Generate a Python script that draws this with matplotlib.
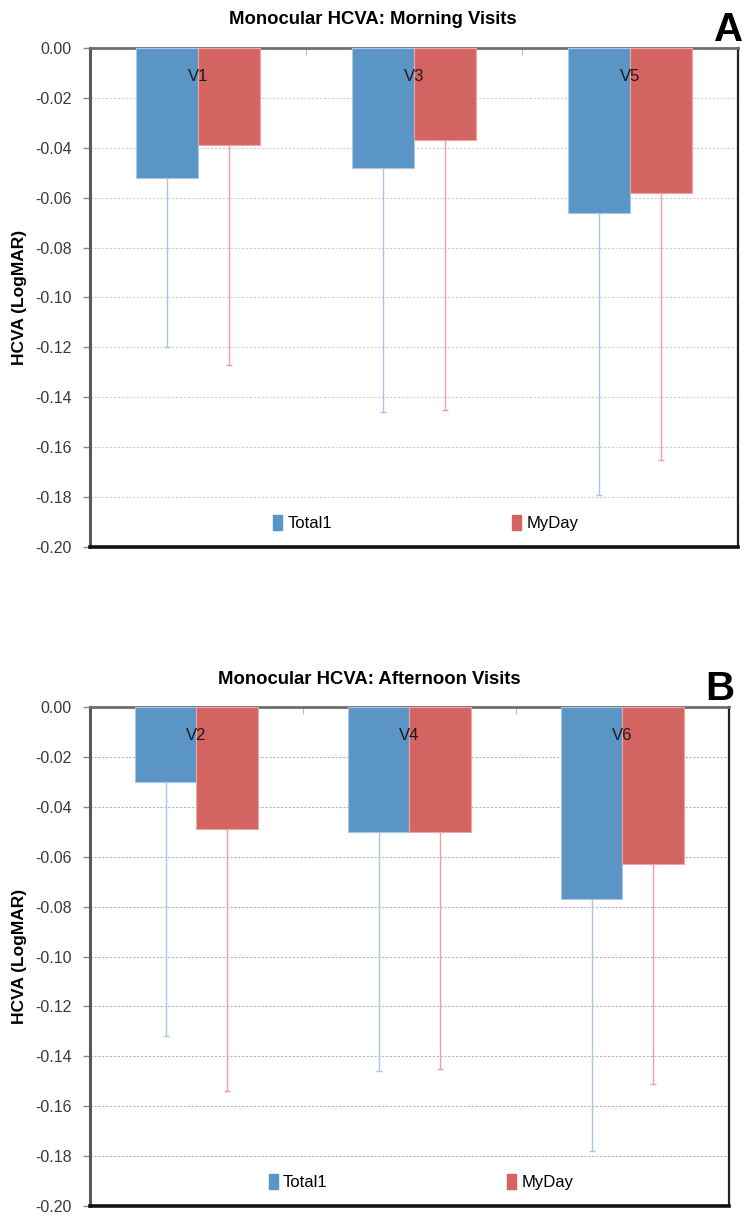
import numpy as np
import matplotlib.pyplot as plt

plt.rcParams['font.family'] = ['Liberation Sans', 'DejaVu Sans']

series = ["Total1", "MyDay"]

morning_visits = ["V1", "V3", "V5"]
morning_total1 = [-0.052, -0.048, -0.066]
morning_myday = [-0.039, -0.037, -0.058]
morning_total1_err = [0.068, 0.098, 0.113]
morning_myday_err = [0.088, 0.108, 0.107]

afternoon_visits = ["V2", "V4", "V6"]
afternoon_total1 = [-0.030, -0.050, -0.077]
afternoon_myday = [-0.049, -0.050, -0.063]
afternoon_total1_err = [0.102, 0.096, 0.101]
afternoon_myday_err = [0.105, 0.095, 0.088]

yticks = np.arange(0, -0.2001, -0.02)

blue = "#5b95c6"
red = "#d46462"
blue_err = "#a9c5e2"
red_err = "#eca2a2"


def draw_panel(ax, visits, total1, myday, total1_err, myday_err, letter, grid_color, width_px):
    x = np.arange(len(visits))
    w = 0.287
    ax.bar(x - w / 2, total1, w, color=blue, edgecolor="#a9c7e3", linewidth=0.8, zorder=3)
    ax.bar(x + w / 2, myday, w, color=red, edgecolor="#eaa7a5", linewidth=0.8, zorder=3)
    # one-sided (downward) error bars
    ax.errorbar(x - w / 2, total1, yerr=[total1_err, np.zeros(len(x))], fmt="none",
                ecolor=blue_err, elinewidth=1, capsize=2.5, capthick=1, zorder=2)
    ax.errorbar(x + w / 2, myday, yerr=[myday_err, np.zeros(len(x))], fmt="none",
                ecolor=red_err, elinewidth=1, capsize=2.5, capthick=1, zorder=2)

    for xi, v in zip(x, visits):
        ax.text(xi, -0.0115, v, ha="center", va="center", fontsize=12, color="#1a1a1a", zorder=4)

    ax.set_xlim(-0.5, len(visits) - 0.5)
    ax.set_ylim(-0.20, 0.0)
    ax.set_yticks(yticks)
    ax.set_yticklabels([f"{t:.2f}" if abs(t) > 1e-9 else "0.00" for t in yticks], fontsize=11.5, color="#3a3a3a")
    ax.yaxis.grid(True, linestyle=(0, (2, 1.5)), color=grid_color, linewidth=0.8, zorder=0)
    ax.set_axisbelow(True)

    # small ticks between categories along the top axis line
    ax.set_xticks(np.arange(0.5, len(visits) - 1, 1.0))
    ax.set_xticklabels([])
    ax.tick_params(axis="x", top=True, bottom=False, direction="in", length=5, color="#bbbbbb")
    ax.tick_params(axis="y", direction="out", length=5, color="#888888", width=1, pad=8)

    ax.spines["left"].set_color("#5a5a5a")
    ax.spines["left"].set_linewidth(2.2)
    ax.spines["top"].set_color("#6e6e6e")
    ax.spines["top"].set_linewidth(2.0)
    ax.spines["right"].set_color("#222222")
    ax.spines["right"].set_linewidth(1.6)
    ax.spines["bottom"].set_color("#111111")
    ax.spines["bottom"].set_linewidth(2.6)

    ax.set_ylabel("HCVA (LogMAR)", fontsize=12.5, fontweight="bold")
    ax.yaxis.set_label_coords(-63 / width_px, 0.5)

    handles = [plt.Rectangle((0, 0), 1, 1, color=blue), plt.Rectangle((0, 0), 1, 1, color=red)]
    ax.legend(handles, series, loc="center", bbox_to_anchor=(0.518, 0.048), ncol=2, frameon=False,
              fontsize=12, handlelength=0.55, handleheight=1.0, handletextpad=0.3, columnspacing=10.8)

    ax.text(1 - 9 / width_px, 1.036, letter, transform=ax.transAxes, ha="center", va="center",
            fontsize=29, fontweight="bold")


fig = plt.figure(figsize=(7.45, 12.16), dpi=100)
ax_top = fig.add_axes([0.1208, 0.5502, 0.8698, 0.4104])
ax_bot = fig.add_axes([0.1208, 0.0082, 0.8577, 0.4104])

draw_panel(ax_top, morning_visits, morning_total1, morning_myday, morning_total1_err, morning_myday_err,
           "A", "#d0d0d0", 648)
draw_panel(ax_bot, afternoon_visits, afternoon_total1, afternoon_myday, afternoon_total1_err, afternoon_myday_err,
           "B", "#b4b4b4", 639)

fig.text(373 / 745, 1 - 19 / 1216, "Monocular HCVA: Morning Visits", ha="center", va="center",
         fontsize=13.3, fontweight="bold")
fig.text(369 / 745, 1 - 679 / 1216, "Monocular HCVA: Afternoon Visits", ha="center", va="center",
         fontsize=13.3, fontweight="bold")

fig.savefig("out.png", dpi=100)
